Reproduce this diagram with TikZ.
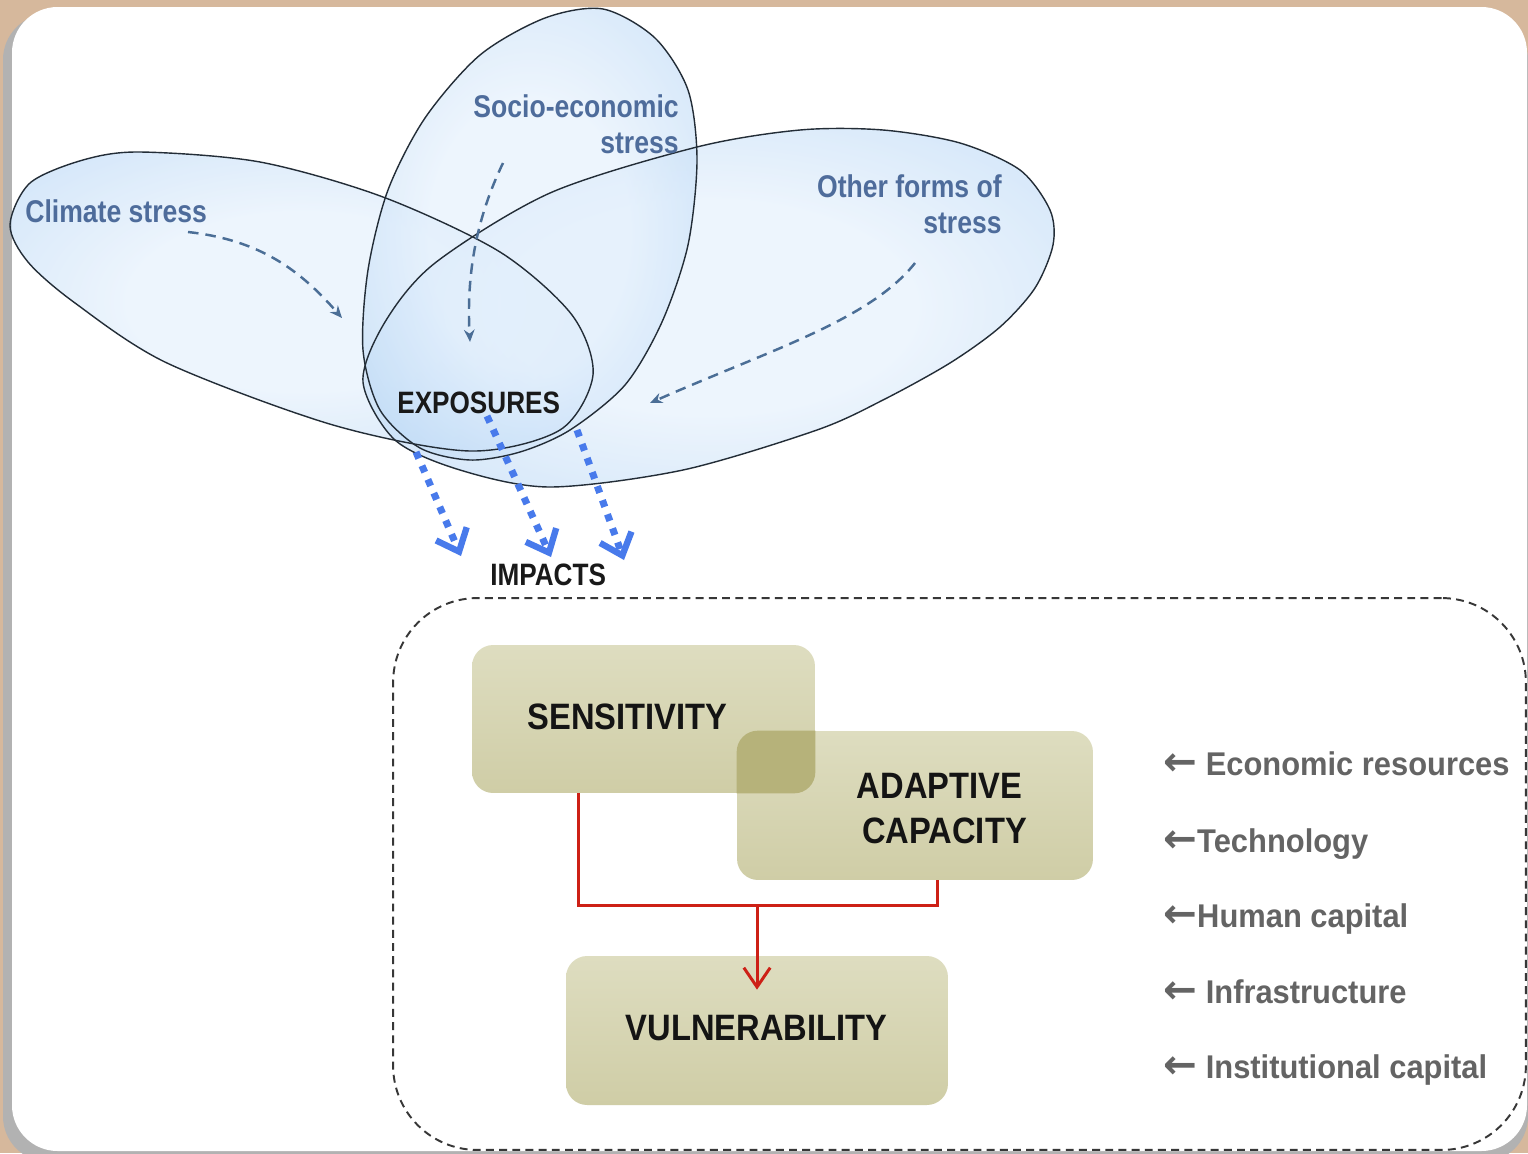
\documentclass[tikz,border=0pt]{standalone}
\usepackage{fontspec}
\setmainfont{Liberation Sans}
\newfontfamily\fntBlue[FakeStretch=0.845]{Liberation Sans}
\newfontfamily\fntBox[FakeStretch=0.89]{Liberation Sans}
\newfontfamily\fntGray[FakeStretch=0.94]{Liberation Sans}
\newfontfamily\fntArw{DejaVu Sans}
\usetikzlibrary{arrows.meta,calc}
\definecolor{bgtan}{RGB}{214,184,156}
\definecolor{ellin}{RGB}{226,239,252}
\definecolor{ellout}{RGB}{150,195,240}
\definecolor{ellline}{RGB}{35,45,55}
\definecolor{lblblue}{RGB}{78,108,155}
\definecolor{arrblue}{RGB}{75,110,150}
\definecolor{dotblue}{RGB}{72,122,235}
\definecolor{boxtop}{RGB}{222,221,192}
\definecolor{boxbot}{RGB}{207,205,166}
\definecolor{boxover}{RGB}{182,178,122}
\definecolor{redln}{RGB}{205,32,22}
\definecolor{graytxt}{RGB}{100,100,100}
\definecolor{frameln}{RGB}{55,55,55}
\pgfdeclareradialshading{ellshade}{\pgfpoint{0bp}{0bp}}{color(0bp)=(ellin); color(15bp)=(ellin); color(48bp)=(ellout); color(80bp)=(ellout)}
\tikzset{
  ellfill/.style={shading=ellshade, fill opacity=0.62},
  ellout/.style={draw=ellline, line width=0.8pt},
  bluelab/.style={text=lblblue, inner sep=0pt, font={\fntBlue\bfseries\fontsize{17.9pt}{21pt}\selectfont}},
  blacklab/.style={text=black!90, inner sep=0pt, font={\fntBlue\bfseries\fontsize{17.6pt}{21pt}\selectfont}},
  boxlab/.style={text=black!92, inner sep=0pt, font={\fntBox\bfseries\fontsize{20.9pt}{24pt}\selectfont}},
  graylab/.style={text=graytxt, inner sep=0pt, font={\fntGray\bfseries\fontsize{18.7pt}{22pt}\selectfont}},
  dasharr/.style={draw=arrblue, line width=1.4pt, dash pattern=on 6pt off 4pt, -{Stealth[length=7pt,width=6pt]}},
  dotarr/.style={draw=dotblue, line width=4pt, dash pattern=on 4pt off 4.5pt, -{Straight Barb[length=11pt,width=19pt,line width=3.6pt]}},
  box/.style={draw=none, rounded corners=12pt, top color=boxtop, bottom color=boxbot, inner sep=0pt},
  redl/.style={draw=redln, line width=1.7pt},
  framebox/.style={draw=frameln, line width=1.1pt, dash pattern=on 4.5pt off 3pt, rounded corners=48pt, inner sep=0pt}
}
\newcommand{\larr}{{\fntArw\fontsize{23pt}{23pt}\selectfont ←}}
\begin{document}
\begin{tikzpicture}[x=0.02cm,y=-0.02cm]
\useasboundingbox (0,0) rectangle (1528,1153);
% background and card
\fill[bgtan] (0,0) rectangle (1528,1153);
\fill[black!30, rounded corners=26pt] (3,14) rectangle (1528,1162);
\fill[white, rounded corners=26pt] (12,7) rectangle (1527,1151);

% ellipse fills
\shade[ellfill] plot[smooth cycle] coordinates {(10,225) (30,183) (83,160) (140,152) (260,162) (383,197) (500,252) (572,315) (593,375) (560,430) (470,451) (333,425) (167,363) (75,303) (28,262)};
\shade[ellfill] plot[smooth cycle] coordinates {(363,382) (385,322) (435,263) (550,193) (697,147) (800,130) (883,130) (960,143) (1020,170) (1050,210) (1053,245) (1035,288) (1000,327) (950,363) (883,400) (817,430) (683,470) (550,487) (460,470) (395,440)};
\shade[ellfill] plot[smooth cycle] coordinates {(603,9) (655,38) (688,90) (697,160) (688,245) (662,322) (625,385) (570,430) (520,452) (470,460) (420,448) (380,410) (363,350) (368,270) (388,190) (425,118) (480,55) (545,18)};
% ellipse outlines
\draw[ellout] plot[smooth cycle] coordinates {(10,225) (30,183) (83,160) (140,152) (260,162) (383,197) (500,252) (572,315) (593,375) (560,430) (470,451) (333,425) (167,363) (75,303) (28,262)};
\draw[ellout] plot[smooth cycle] coordinates {(363,382) (385,322) (435,263) (550,193) (697,147) (800,130) (883,130) (960,143) (1020,170) (1050,210) (1053,245) (1035,288) (1000,327) (950,363) (883,400) (817,430) (683,470) (550,487) (460,470) (395,440)};
\draw[ellout] plot[smooth cycle] coordinates {(603,9) (655,38) (688,90) (697,160) (688,245) (662,322) (625,385) (570,430) (520,452) (470,460) (420,448) (380,410) (363,350) (368,270) (388,190) (425,118) (480,55) (545,18)};

% labels in ellipses
\node[bluelab, anchor=base west] (lclim) at (25,222) {Climate stress};
\node[bluelab, anchor=base east] (lsoc1) at (679,117) {Socio-economic};
\node[bluelab, anchor=base east] (lsoc2) at (679,153) {stress};
\node[bluelab, anchor=base east] (loth1) at (1002,197) {Other forms of};
\node[bluelab, anchor=base east] (loth2) at (1002,233) {stress};
\node[blacklab, anchor=base west] (expo) at (397,413) {EXPOSURES};

% dashed arrows
\coordinate (ca1) at (188,232); \coordinate (ca2) at (342,318);
\coordinate (sa1) at (503,163); \coordinate (sa2) at (470,342);
\coordinate (oa1) at (915,263); \coordinate (oa2) at (650,403);
\draw[dasharr] (ca1) .. controls (260,240) and (300,270) .. (ca2);
\draw[dasharr] (sa1) .. controls (478,215) and (466,270) .. (sa2);
\draw[dasharr] (oa1) .. controls (870,320) and (770,350) .. (oa2);

% dotted arrows to impacts
\coordinate (d1s) at (416,452); \coordinate (d1e) at (461,556);
\coordinate (d2s) at (487,416); \coordinate (d2e) at (551,557);
\coordinate (d3s) at (577,430); \coordinate (d3e) at (624,560);
\draw[dotarr] (d1s) -- (d1e);
\draw[dotarr] (d2s) -- (d2e);
\draw[dotarr] (d3s) -- (d3e);
\node[blacklab, anchor=base west] (imp) at (490,585) {IMPACTS};

% dashed frame
\node[framebox, minimum width=22.66cm, minimum height=11.04cm] (frame) at (959.5,874) {};

% boxes
\node[box, minimum width=6.86cm, minimum height=2.96cm] (sens) at (643.5,719) {};
\node[box, minimum width=7.12cm, minimum height=2.98cm] (adapt) at (915,805.5) {};
\begin{scope}
  \clip[rounded corners=12pt] (sens.south west) rectangle (sens.north east);
  \fill[boxover, rounded corners=12pt] (adapt.south west) rectangle (adapt.north east);
\end{scope}
\node[box, minimum width=7.64cm, minimum height=2.98cm] (vuln) at (757,1030.5) {};

\node[boxlab, anchor=base] (tsens) at (627.5,729) {SENSITIVITY};
\node[boxlab, anchor=base] (tad1) at (939.5,798) {ADAPTIVE};
\node[boxlab, anchor=base] (tad2) at (944.5,843) {CAPACITY};
\node[boxlab, anchor=base] (tvul) at (756.5,1040) {VULNERABILITY};

% red connectors
\coordinate (sx) at (578,0);
\coordinate (jr) at (937,905);
\coordinate (jm) at (757,905);
\draw[redl] (sens.south -| sx) |- (jr) -- (adapt.south -| jr);
\draw[redl, -{Straight Barb[length=11pt,width=15pt]}] (jm) -- ($(vuln.north)+(0,34)$);

% right list
\node[graylab, anchor=base west] (r1) at (1163,775) {\larr\ Economic resources};
\node[graylab, anchor=base west] (r2) at (1163,852) {\larr Technology};
\node[graylab, anchor=base west] (r3) at (1163,927) {\larr Human capital};
\node[graylab, anchor=base west] (r4) at (1163,1003) {\larr\ Infrastructure};
\node[graylab, anchor=base west] (r5) at (1163,1078) {\larr\ Institutional capital};
\end{tikzpicture}
\end{document}
